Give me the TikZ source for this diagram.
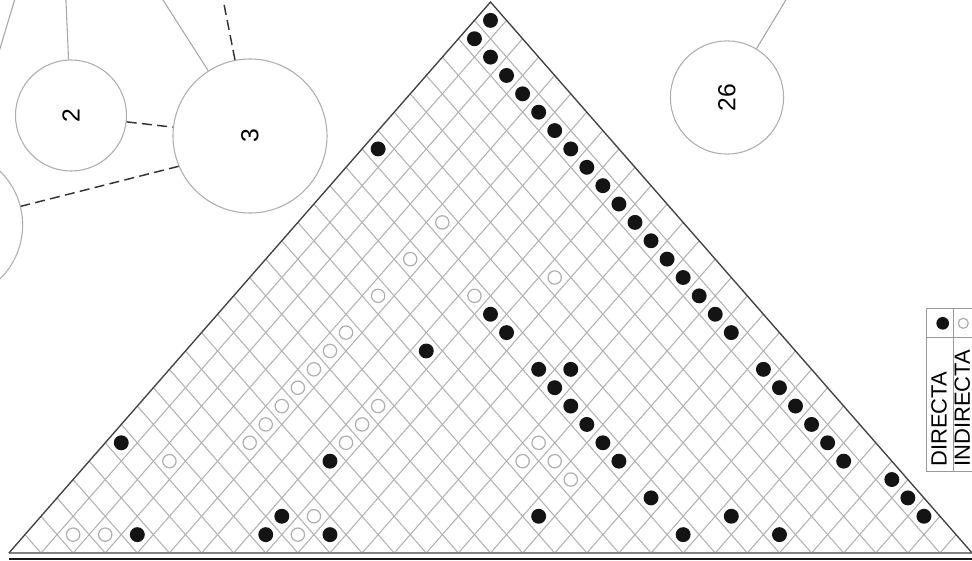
\documentclass[tikz,border=0pt]{standalone}
\usepackage{fontspec}
\setmainfont{Liberation Sans}
\usepackage{graphicx}
\begin{document}
\begin{tikzpicture}[x=0.75pt,y=-0.75pt,
  bubble/.style={circle,draw=black!32,line width=0.8pt,inner sep=0pt,font=\fontsize{18.5}{20}\selectfont},
  link/.style={draw=black!35,line width=0.8pt},
  dashlink/.style={draw=black!80,line width=1.1pt,dash pattern=on 7.5pt off 4pt},
  gridline/.style={draw=black!30,line width=0.8pt},
  edgeline/.style={draw=black!75,line width=1pt},
  basegray/.style={draw=black!50,line width=1.7pt},
  baseblack/.style={draw=black!90,line width=1.4pt},
  legline/.style={draw=black!40,line width=0.8pt},
  dotfull/.style={circle,fill=black!92,inner sep=0pt,minimum size=11.2pt},
  dotopen/.style={circle,draw=black!32,line width=0.9pt,inner sep=0pt,minimum size=10pt},
  legtext/.style={rotate=90,anchor=base west,inner sep=0pt,font=\fontsize{16.5}{18}\selectfont}
]
\useasboundingbox (0,0) rectangle (972,561);
\clip (0,0) rectangle (972,561);

% bubbles
\node[bubble,minimum size=83.25pt] (c2) at (71,115.5) {\rotatebox{90}{2}};
\node[bubble,minimum size=115.5pt] (c3) at (250,136) {\rotatebox{90}{3}};
\node[bubble,minimum size=113.4pt] (cL) at (-53,225) {};
\node[bubble,minimum size=84.9pt] (c26) at (727,97.5) {\rotatebox{90}{26}};

\coordinate (t2) at (65.5,-10);
\coordinate (t3a) at (156.6,-10);
\coordinate (t3b) at (221.2,-10);
\coordinate (tL) at (17.6,-10);
\coordinate (t26) at (791.9,-10);

\draw[link] (c2) -- (t2);
\draw[link] (c3) -- (t3a);
\draw[dashlink] (c3) -- (t3b);
\draw[dashlink] (c2) -- (c3);
\draw[dashlink] (c3.203.5) -- (cL);
\draw[link] (cL) -- (tL);
\draw[link] (c26) -- (t26);

% triangular matrix
\begin{scope}[shift={(6.675pt,-414.75pt)}, x={(12.04pt,-13.775pt)}, y={(12.04pt,13.775pt)}]
  \foreach \k in {1,...,29} {
    \draw[gridline] (\k,\k) -- (\k,30);
    \draw[gridline] (\k,\k) -- (0,\k);
  }
  \draw[basegray] (0,0) -- (30,30);
  \draw[edgeline] (0,0) -- (0,30) -- (30,30);
  \foreach \i/\j in {1/30,1/29,2/29,3/29,4/29,5/29,6/29,7/29,8/29,9/29,10/29,11/29,12/29,13/29,14/29,15/29,16/29,17/29,19/29,20/29,21/29,22/29,23/29,24/29,26/30,27/30,28/30,1/23,8/19,9/22,10/22,12/22,13/23,13/22,14/22,15/22,16/22,17/22,19/22,1/7,8/13,8/10,8/9,10/11,4/5,16/18,21/22,22/24,24/25}
    \node[dotfull] (f\i-\j) at (\i-0.5,\j-0.5) {};
  \foreach \i/\j in {5/23,5/21,5/19,5/17,5/16,5/15,5/14,5/13,5/12,5/11,8/16,8/15,8/14,3/8,2/3,3/4,9/10,9/11,8/22,10/25,14/20,14/19,15/20,16/20}
    \node[dotopen] (o\i-\j) at (\i-0.5,\j-0.5) {};
\end{scope}

\draw[baseblack] (8.9,559.3) -- (990,559.3);

% legend
\draw[legline] (926.7,308.3) rectangle (995,471.7);
\draw[legline] (926.7,337.7) -- (995,337.7);
\draw[legline] (953.3,308.3) -- (953.3,471.7);
\node[dotfull,minimum size=9.5pt] (legf) at (942.7,323.3) {};
\node[dotopen,minimum size=7.5pt] (lego) at (963.3,323.3) {};
\node[legtext] (legd) at (946.7,467) {DIRECTA};
\node[legtext] (legi) at (969.8,467) {INDIRECTA};
\end{tikzpicture}
\end{document}
